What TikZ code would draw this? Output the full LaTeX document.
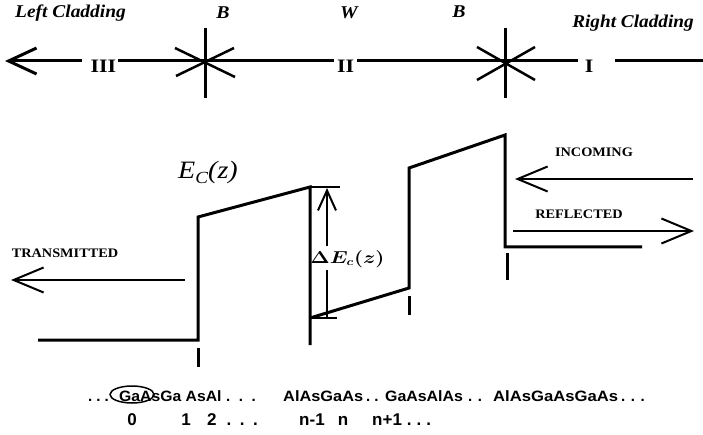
\documentclass[tikz,border=0pt]{standalone}
\usepackage{fontspec}
\usepackage{graphicx}
\setmainfont{Liberation Serif}
\newfontfamily\lsans{Liberation Sans}
\usetikzlibrary{arrows.meta}
\newcommand{\hsc}[2]{\scalebox{#1}[1]{#2}}
\begin{document}
\begin{tikzpicture}[x=1pt,y=-1pt,
  heavy/.style={line width=3pt},
  medium/.style={line width=2.5pt},
  light/.style={line width=2pt},
  bigtip/.style={-{Straight Barb[length=28pt,width=26pt,line width=3pt]}},
  midtip/.style={-{Straight Barb[length=30pt,width=25pt,line width=2pt]}},
  smalltip/.style={-{Straight Barb[length=20pt,width=18pt,line width=2pt]}},
  clad/.style={inner sep=0pt, anchor=base, font=\bfseries\itshape\fontsize{18}{20}\selectfont},
  roman/.style={inner sep=0pt, anchor=base, font=\bfseries\fontsize{19}{21}\selectfont},
  caps/.style={inner sep=0pt, anchor=base, font=\bfseries\fontsize{13}{15}\selectfont},
  seq/.style={inner sep=0pt, anchor=base west, font=\lsans\bfseries\fontsize{15}{17}\selectfont},
  idx/.style={inner sep=0pt, anchor=base, font=\lsans\bfseries\fontsize{17}{19}\selectfont},
  idxw/.style={idx, anchor=base west},
]
\useasboundingbox (0,0) rectangle (703,435);

% ---------- top labels ----------
\node[clad] (lc) at (70.5,18) {\hsc{1.08}{Left Cladding}};
\node[clad] (b1) at (223,18.5) {\hsc{1.1}{B}};
\node[clad] (w)  at (349,18.5) {\hsc{1.1}{W}};
\node[clad] (b2) at (459,17.5) {\hsc{1.1}{B}};
\node[clad] (rc) at (633,27.5) {\hsc{1.07}{Right Cladding}};

% ---------- top axis ----------
\coordinate (ax0) at (5,61);
\coordinate (ax1) at (82,61);
\node[roman] (r3) at (103.5,72.5) {\hsc{1.15}{III}};
\coordinate (ax2) at (118,61);
\coordinate (ax3) at (334,61);
\node[roman] (r2) at (345.5,72.5) {\hsc{1.15}{II}};
\coordinate (ax4) at (357,61);
\coordinate (ax5) at (578,61);
\node[roman] (r1) at (589,72.5) {\hsc{1.15}{I}};
\coordinate (ax6) at (615,61);
\coordinate (ax7) at (703,61);
\draw[heavy,bigtip] (ax1) -- (ax0);
\draw[heavy] (ax2) -- (ax3);
\draw[heavy] (ax4) -- (ax5);
\draw[heavy] (ax6) -- (ax7);

% crossings
\coordinate (c1t) at (205,28);  \coordinate (c1b) at (205,98);
\coordinate (c1a) at (175,48);  \coordinate (c1d) at (235,77);
\coordinate (c1e) at (176,76);  \coordinate (c1f) at (234,48);
\draw[heavy] (c1t) -- (c1b);
\draw[medium] (c1a) -- (c1d);
\draw[medium] (c1e) -- (c1f);
\coordinate (c2t) at (505,28);  \coordinate (c2b) at (505,98);
\coordinate (c2a) at (477,47);  \coordinate (c2d) at (535,80);
\coordinate (c2e) at (477,80);  \coordinate (c2f) at (535,47);
\draw[heavy] (c2t) -- (c2b);
\draw[medium] (c2a) -- (c2d);
\draw[medium] (c2e) -- (c2f);

% ---------- conduction band profile ----------
\node[inner sep=0pt, anchor=base, font=\fontsize{25}{27}\selectfont] (ec) at (208,179)
  {\hsc{1.12}{\textit{E}\raisebox{-4.5pt}{\fontsize{17}{17}\selectfont\textit{C}}\textit{(z)}}};

\coordinate (p0) at (38,340);
\coordinate (p1) at (198,340);
\coordinate (p2) at (198,217);
\coordinate (p3) at (310,187);
\coordinate (p4) at (310,345);
\coordinate (q0) at (310,318);
\coordinate (q1) at (409,288);
\coordinate (q2) at (409,168);
\coordinate (q3) at (505,135);
\coordinate (q4) at (505,247);
\coordinate (q5) at (642,247);
\draw[heavy] (p0) -- (p1) -- (p2) -- (p3) -- (p4);
\draw[heavy] (q0) -- (q1) -- (q2) -- (q3) -- (q4) -- (q5);

% ticks
\coordinate (t1a) at (198,348); \coordinate (t1b) at (198,367);
\coordinate (t2a) at (409,296); \coordinate (t2b) at (409,315);
\coordinate (t3a) at (507,253); \coordinate (t3b) at (507,280);
\draw[heavy] (t1a) -- (t1b);
\draw[heavy] (t2a) -- (t2b);
\draw[heavy] (t3a) -- (t3b);

% Delta Ec
\coordinate (dtl) at (310,187); \coordinate (dtr) at (340,187);
\coordinate (dbl) at (310,318); \coordinate (dbr) at (337,318);
\draw[light] (dtl) -- (dtr);
\draw[light] (dbl) -- (dbr);
\node[inner sep=0pt, font=\boldmath\fontsize{16}{18}\selectfont] (de) at (347.5,259) {\hsc{1.2}{$\Delta E_c(z)$}};
\coordinate (dv1) at (327,246); \coordinate (dv0) at (327,188);
\coordinate (dv2) at (327,270); \coordinate (dv3) at (327,318);
\draw[light,smalltip] (dv1) -- (dv0);
\draw[light] (dv2) -- (dv3);

% ---------- waves ----------
\node[caps] (tr) at (65,258) {\hsc{1.1}{TRANSMITTED}};
\coordinate (tra) at (185,280); \coordinate (trb) at (11,280);
\draw[light,midtip] (tra) -- (trb);

\node[caps] (in) at (594,156.5) {\hsc{1.1}{INCOMING}};
\coordinate (ina) at (693,179); \coordinate (inb) at (515,179);
\draw[light,midtip] (ina) -- (inb);

\node[caps] (rf) at (579,218.5) {\hsc{1.1}{REFLECTED}};
\coordinate (rfa) at (513,231); \coordinate (rfb) at (694,231);
\draw[light,midtip] (rfa) -- (rfb);

% ---------- layer sequence ----------
\node[seq] (s1) at (88,401.5) {.\hspace{4pt}.\hspace{4pt}.};
\node[seq] (s2) at (119,401.5) {\hsc{1.05}{GaAsGa AsAl}};
\node[seq] (s3) at (226,401.5) {.\hspace{8.5pt}.\hspace{8.5pt}.};
\node[seq] (s4) at (283,401.5) {\hsc{1.09}{AlAsGaAs}};
\node[seq] (s5) at (366,401.5) {.\hspace{4pt}.};
\node[seq] (s6) at (385,401.5) {\hsc{1.06}{GaAsAlAs}};
\node[seq] (s7) at (468,401.5) {.\hspace{5.5pt}.};
\node[seq] (s8) at (493,401.5) {\hsc{1.11}{AlAsGaAsGaAs}};
\node[seq] (s9) at (621,401.5) {.\hspace{5.5pt}.\hspace{5.5pt}.};
\draw[line width=1.5pt] (132,394.5) ellipse [x radius=22, y radius=8.5];

\node[idx] (i0) at (132,425.5) {0};
\node[idx] (i1) at (186,425.5) {1};
\node[idxw] (i2) at (207,425.5) {2\hspace{10pt}.\hspace{8.5pt}.\hspace{8.5pt}.};
\node[idxw] (i3) at (299,425.5) {n-1};
\node[idx] (i4) at (343,425.5) {n};
\node[idxw] (i5) at (372,425.5) {n+1\hspace{5pt}.\hspace{5pt}.\hspace{5pt}.};
\end{tikzpicture}
\end{document}
